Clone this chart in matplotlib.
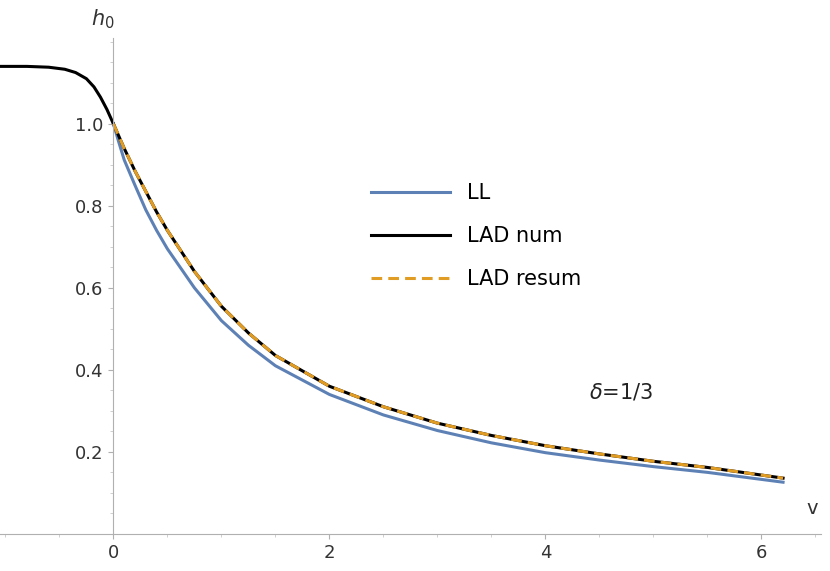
import matplotlib
matplotlib.use("Agg")
import matplotlib.pyplot as plt
from matplotlib.ticker import MultipleLocator

v_neg = [-1.05, -0.8, -0.6, -0.45, -0.35, -0.25, -0.18, -0.12, -0.06, 0.0]
h_neg = [1.14, 1.14, 1.138, 1.133, 1.125, 1.11, 1.09, 1.065, 1.035, 1.0]
v = [0, 0.05, 0.1, 0.2, 0.3, 0.4, 0.5, 0.75, 1.0, 1.25, 1.5, 2.0, 2.5, 3.0, 3.5, 4.0, 4.5, 5.0, 5.5, 6.2]
lad = [1.0, 0.97, 0.94, 0.885, 0.835, 0.785, 0.74, 0.64, 0.555, 0.49, 0.435, 0.36, 0.31, 0.27, 0.24, 0.215, 0.195, 0.177, 0.162, 0.136]
ll = [1.0, 0.955, 0.912, 0.85, 0.79, 0.74, 0.695, 0.6, 0.52, 0.46, 0.41, 0.34, 0.29, 0.252, 0.222, 0.198, 0.18, 0.164, 0.15, 0.126]

fig = plt.figure(figsize=(8.3, 5.71), dpi=100)
ax = fig.add_axes([0, 0.065, 0.989, 0.869])
ax.set_xlim(-1.05, 6.55)
ax.set_ylim(0, 1.21)
ax.plot(v, ll, color="#5e81b5", lw=2.2, label="LL")
ax.plot(v_neg + v[1:], h_neg + lad[1:], color="black", lw=2.2, label="LAD num")
ax.plot(v, lad, color="#e19c24", lw=2.2, ls=(0, (3.5, 2)), label="LAD resum")
for s in ["top", "right"]:
    ax.spines[s].set_visible(False)
ax.spines["left"].set_position(("data", 0))
ax.spines["bottom"].set_position(("data", 0))
for s in ["left", "bottom"]:
    ax.spines[s].set_color("#b0b0b0")
ax.set_xticks([0, 2, 4, 6])
ax.set_yticks([0.2, 0.4, 0.6, 0.8, 1.0])
ax.set_yticklabels(["0.2", "0.4", "0.6", "0.8", "1.0"])
ax.xaxis.set_minor_locator(MultipleLocator(0.5))
ax.yaxis.set_minor_locator(MultipleLocator(0.05))
ax.tick_params(colors="#b0b0b0", labelcolor="#333333", labelsize=13)
ax.tick_params(which="minor", colors="#c8c8c8", length=2)
ax.set_xlabel("v", fontsize=14, color="#333333")
ax.xaxis.set_label_coords(0.99, 0.07)
ax.text(-0.1, 1.24, "$h_0$", fontsize=15, color="#333333", ha="center")
ax.legend(loc="center", bbox_to_anchor=(0.58, 0.6), frameon=False, fontsize=15,
          handlelength=3.8, labelspacing=1.1)
ax.text(4.4, 0.33, r"$\delta$=1/3", fontsize=15, color="#222222")
fig.savefig("out.png", dpi=100)
